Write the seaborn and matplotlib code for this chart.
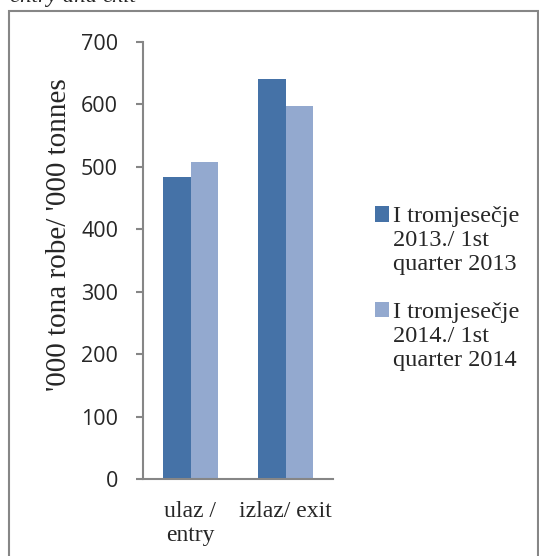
import pandas as pd
import matplotlib.pyplot as plt
import matplotlib.patches as mpatches
import seaborn as sns

# data
categories = ['ulaz /\nentry', 'izlaz/ exit']
series = ['I tromjesečje\n2013./ 1st\nquarter 2013',
          'I tromjesečje\n2014./ 1st\nquarter 2014']
q1_2013 = [484, 641]
q1_2014 = [507, 597]
yticks = [0, 100, 200, 300, 400, 500, 600, 700]
colors = ['#4572A7', '#93A9CF']

df = pd.DataFrame({
    'cat': categories * 2,
    'series': [series[0]] * 2 + [series[1]] * 2,
    'value': q1_2013 + q1_2014,
})

sns.set_style('white')
serif = ['Liberation Serif', 'DejaVu Serif']

fig = plt.figure(figsize=(5.39, 5.56), dpi=100)
ax = fig.add_axes([143 / 539, 1 - 479 / 556, 190 / 539, 437 / 556])

sns.barplot(data=df, x='cat', y='value', hue='series', palette=colors,
            width=0.57, linewidth=0, ax=ax, saturation=1)

ax.set_ylim(0, 700)
ax.set_xlim(-0.5, 1.5)
ax.set_yticks(yticks)
ax.set_yticklabels([str(t) for t in yticks], family='Open Sans', fontsize=15.5)
ax.set_xticks([0, 1])
ax.set_xticklabels(categories, family=serif, fontsize=17, linespacing=1.15)
ax.tick_params(axis='y', length=5, width=1.5, color='#868686', pad=13, left=True)
ax.tick_params(axis='x', length=0, pad=16)
ax.set_xlabel('')
ax.set_ylabel("'000 tona robe/ '000 tonnes", family=serif, fontsize=21)
ax.yaxis.label.set_va('center')
ax.yaxis.set_label_coords(-0.44, 0.56)

for s in ['top', 'right']:
    ax.spines[s].set_visible(False)
for s in ['left', 'bottom']:
    ax.spines[s].set_color('#868686')
    ax.spines[s].set_linewidth(1.5)

handles, labels = ax.get_legend_handles_labels()
leg = ax.legend(handles, series, loc='center left', bbox_to_anchor=(353 / 539, 1 - 288.5 / 556),
                bbox_transform=fig.transFigure, frameon=False,
                prop={'family': serif, 'size': 17.5}, handlelength=0.6, handleheight=0.6,
                handletextpad=0.15, labelspacing=1.09)
for t in leg.get_texts():
    t.set_linespacing(1.18)
# put the square marker next to the first line of each label
for col in leg._legend_handle_box.get_children():
    for row in col.get_children():
        row.align = 'top'

# outer frame and cut-off caption above it
fig.patches.append(mpatches.Rectangle((9 / 539, -0.05), 529 / 539, 1.05 - 11 / 556,
                                      transform=fig.transFigure, fill=False,
                                      edgecolor='#868686', linewidth=1.5))
fig.text(10 / 539, 1 - 2 / 556, 'entry and exit', family=serif, style='italic',
         fontsize=16.5, va='baseline', ha='left')

fig.savefig('out.png', dpi=100)
